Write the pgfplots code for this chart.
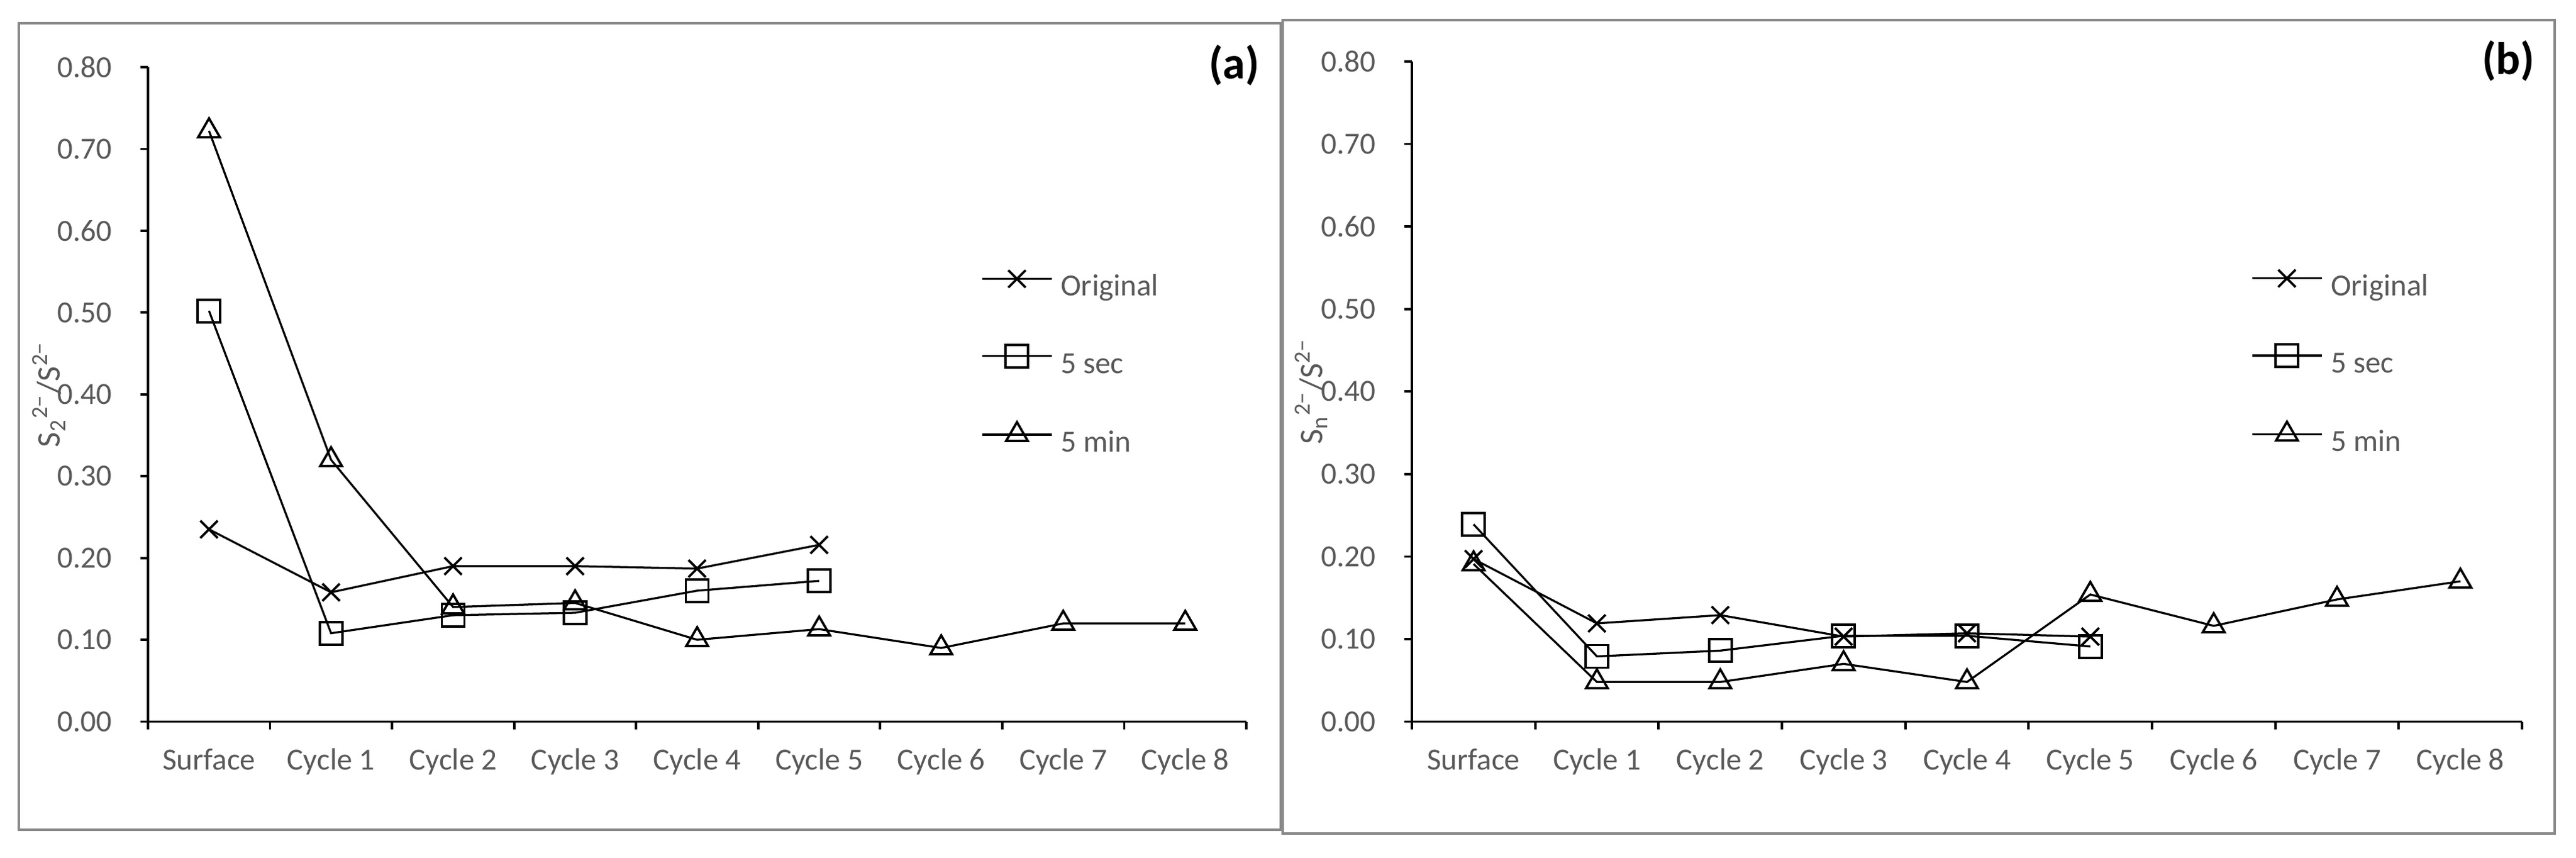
\documentclass[border=0pt]{standalone}
\usepackage{fontspec}
\setmainfont{Carlito}
\usepackage{pgfplots}
\pgfplotsset{compat=1.18}

\definecolor{txtgray}{RGB}{89,89,89}
\definecolor{framegray}{RGB}{137,137,137}

% shared look of both panels
\pgfplotsset{
  panel/.style={
    scale only axis,
    anchor=south west,
    clip=false,
    xmin=-0.5, xmax=8.5,
    ymin=0, ymax=0.8,
    axis x line*=bottom,
    axis y line*=left,
    axis line style={-, line width=0.75pt, black},
    tick align=outside,
    major tick length=2.5pt,
    tick style={black, line width=0.75pt},
    xtick={-0.5,0.5,1.5,2.5,3.5,4.5,5.5,6.5,7.5,8.5},
    xticklabel={\phantom{0}},
    extra x ticks={0,1,2,3,4,5,6,7,8},
    extra x tick labels={Surface,Cycle 1,Cycle 2,Cycle 3,Cycle 4,Cycle 5,Cycle 6,Cycle 7,Cycle 8},
    extra x tick style={major tick length=0pt},
    ytick={0,0.1,0.2,0.3,0.4,0.5,0.6,0.7,0.8},
    scaled y ticks=false,
    /pgf/number format/assume math mode=true,
    yticklabel style={/pgf/number format/fixed, /pgf/number format/fixed zerofill,
      /pgf/number format/precision=2},
    tick label style={font=\fontsize{9.8}{11}\selectfont, text=txtgray, inner sep=0pt},
    xticklabel style={anchor=base, yshift=-15.3pt},
    yticklabel style={anchor=east, xshift=-8.8pt},
    ylabel style={anchor=center, font=\fontsize{10.5}{12}\selectfont, text=txtgray},
    legend cell align=left,
    legend style={draw=none, fill=none, anchor=west, inner sep=0pt,
      row sep=13.1pt, column sep=2.6pt,
      nodes={inner sep=0pt, text height=7pt, text depth=2.5pt, text=txtgray,
             font=\fontsize{9.8}{11}\selectfont}},
    legend image code/.code={
      \draw[##1, mark repeat=2, mark phase=2]
        plot coordinates {(0pt,3.2pt) (11.1pt,3.2pt) (22.2pt,3.2pt)};
    },
  },
  orig/.style={black, line width=0.65pt, mark=x, mark size=3.9pt, mark options={line width=0.75pt}},
  sec/.style={black, line width=0.65pt, mark=square, mark size=3.6pt, mark options={line width=0.75pt}},
  min/.style={black, line width=0.65pt, mark=triangle, mark size=4pt, mark options={line width=0.75pt}},
}

\begin{document}
\begin{tikzpicture}
\useasboundingbox (0,0) rectangle (821.4pt,273.4pt);

\draw[framegray, line width=0.7pt] (6pt,8.8pt) rectangle (408.4pt,266pt);
\draw[framegray, line width=0.7pt] (409pt,7.6pt) rectangle (814.6pt,267pt);

% (a)
\begin{axis}[panel,
  at={(47.2pt,43.3pt)}, width=350.2pt, height=208.7pt,
  ylabel={S\textsubscript{2}\textsuperscript{2−}/S\textsuperscript{2−}},
  ylabel style={at={(axis description cs:-0.0902,0.5)}},
  legend style={at={(axis description cs:0.758,0.545)}},
]
\addplot[orig] coordinates {
  (0,0.235) (1,0.158) (2,0.190) (3,0.190) (4,0.187) (5,0.216)
};
\addlegendentry{Original}
\addplot[sec] coordinates {
  (0,0.502) (1,0.108) (2,0.130) (3,0.133) (4,0.160) (5,0.172)
};
\addlegendentry{5 sec}
\addplot[min] coordinates {
  (0,0.722) (1,0.320) (2,0.140) (3,0.145) (4,0.100) (5,0.113)
  (6,0.090) (7,0.120) (8,0.120)
};
\addlegendentry{5 min}
\node[font=\bfseries\fontsize{14.5}{17}\selectfont, text=black]
  at (axis description cs:0.989,1.003) {(a)};
\end{axis}

% (b)
\begin{axis}[panel,
  at={(450.2pt,43.3pt)}, width=354pt, height=210.5pt,
  ylabel={S\textsubscript{n}\textsuperscript{2−}/S\textsuperscript{2−}},
  ylabel style={at={(axis description cs:-0.0904,0.5)}},
  legend style={at={(axis description cs:0.7554,0.541)}},
]
\addplot[orig] coordinates {
  (0,0.197) (1,0.119) (2,0.129) (3,0.103) (4,0.107) (5,0.103)
};
\addlegendentry{Original}
\addplot[sec] coordinates {
  (0,0.239) (1,0.079) (2,0.086) (3,0.104) (4,0.104) (5,0.091)
};
\addlegendentry{5 sec}
\addplot[min] coordinates {
  (0,0.191) (1,0.048) (2,0.048) (3,0.070) (4,0.048) (5,0.154)
  (6,0.116) (7,0.148) (8,0.170)
};
\addlegendentry{5 min}
\node[font=\bfseries\fontsize{14.5}{17}\selectfont, text=black]
  at (axis description cs:0.9876,1.001) {(b)};
\end{axis}
\end{tikzpicture}
\end{document}
